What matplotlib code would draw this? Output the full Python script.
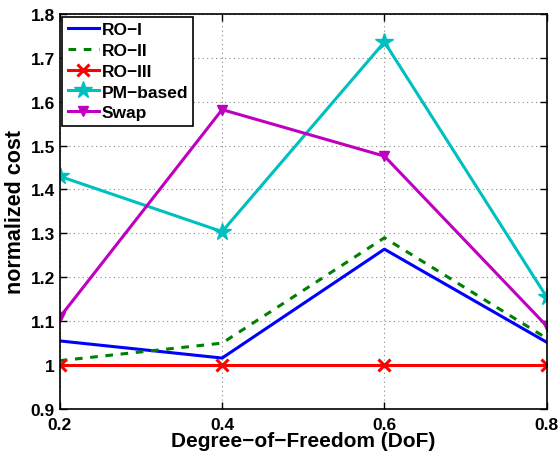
import matplotlib
matplotlib.use("Agg")
import matplotlib.pyplot as plt

dof = [0.2, 0.4, 0.6, 0.8]
ro1 = [1.055, 1.016, 1.264, 1.052]
ro2 = [1.010, 1.050, 1.290, 1.061]
ro3 = [1.0, 1.0, 1.0, 1.0]
pm_based = [1.430, 1.304, 1.736, 1.155]
swap = [1.109, 1.582, 1.476, 1.089]

plt.rcParams['font.family'] = ['Liberation Sans', 'DejaVu Sans']
plt.rcParams['font.weight'] = 'bold'

fig = plt.figure(figsize=(5.59, 4.52), dpi=100)
ax = fig.add_axes([0.107, 0.093, 0.871, 0.874])

ax.plot(dof, ro1, color='#0000ff', lw=2.2, label='RO\u2212I')
ax.plot(dof, ro2, color='#008000', lw=2.2, ls=(0, (2.5, 2.5)), label='RO\u2212II')
ax.plot(dof, ro3, color='#ff0000', lw=2.2, marker='x', ms=8, mew=2.2, label='RO\u2212III')
ax.plot(dof, pm_based, color='#00bfbf', lw=2.2, marker='*', ms=13, label='PM\u2212based')
ax.plot(dof, swap, color='#bf00bf', lw=2.2, marker='v', ms=7.5, label='Swap')

ax.set_xlim(0.2, 0.8)
ax.set_ylim(0.9, 1.8)
ax.set_xticks([0.2, 0.4, 0.6, 0.8])
ax.set_yticks([0.9, 1.0, 1.1, 1.2, 1.3, 1.4, 1.5, 1.6, 1.7, 1.8])
ax.set_yticklabels(['0.9', '1', '1.1', '1.2', '1.3', '1.4', '1.5', '1.6', '1.7', '1.8'])
ax.grid(True, ls=(0, (1, 3)), color='#888888', lw=0.8)
ax.tick_params(direction='in', labelsize=12.5, width=1, length=5, top=True, right=True)
ax.tick_params(axis='x', pad=6)
for s in ax.spines.values():
    s.set_linewidth(1.2)

ax.set_xlabel('Degree\u2212of\u2212Freedom (DoF)', fontsize=15, fontweight='bold', labelpad=-1)
ax.set_ylabel('normalized cost', fontsize=15.5, fontweight='bold', labelpad=3)

leg = ax.legend(loc='upper left', fontsize=12.5, handlelength=1.8, borderaxespad=0.15,
                fancybox=False, framealpha=1, edgecolor='black', labelspacing=0.33,
                handletextpad=0.15, borderpad=0.3)
leg.get_frame().set_linewidth(1.2)

fig.savefig('out.png', dpi=100)
